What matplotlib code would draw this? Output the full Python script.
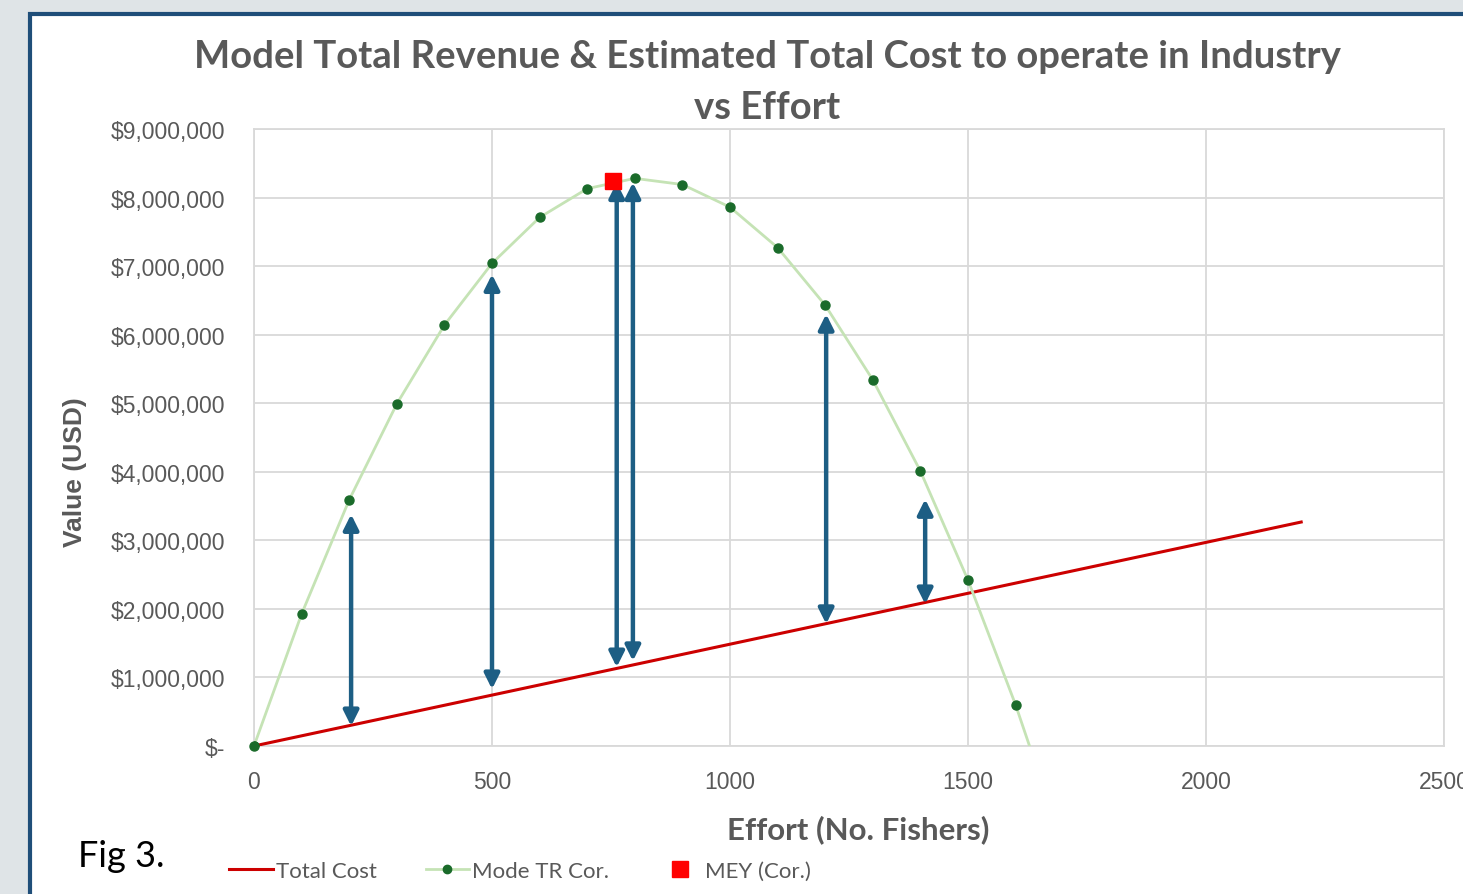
import matplotlib.pyplot as plt
import matplotlib.ticker as mticker
from matplotlib.patches import Rectangle
from matplotlib.lines import Line2D

# effort (no. fishers) and modelled total revenue (corrected)
effort = [0, 100, 200, 300, 400, 500, 600, 700, 800, 900, 1000,
          1100, 1200, 1300, 1400, 1500, 1600, 1700]
revenue = [0, 1925000, 3590000, 4990000, 6140000, 7040000, 7710000, 8130000,
           8280000, 8190000, 7860000, 7270000, 6430000, 5340000, 4010000,
           2420000, 600000, -1450000]

# total cost line
cost_effort = [0, 2200]
cost_value = [0, 3267000]

# MEY point
mey_effort = [754]
mey_value = [8240000]

# double arrows showing the gap revenue - cost
arrow_x = [204, 500, 762, 796, 1202, 1410]
arrow_top = [3380000, 6880000, 8220000, 8220000, 6300000, 3600000]
arrow_bottom = [290000, 830000, 1150000, 1240000, 1780000, 2070000]

grey = '#595959'
fig = plt.figure(figsize=(14.63, 8.95), dpi=100)
fig.patch.set_facecolor('#dfe4e7')
fig.patches.append(Rectangle((30/1463, -0.05), 1.1, 1 - 15/895 + 0.05,
                             transform=fig.transFigure, facecolor='white',
                             edgecolor='#1f4e79', linewidth=3, zorder=-5))

ax = fig.add_axes([254/1463, 1 - 747/895, 1190/1463, 617/895])
ax.set_facecolor('white')

ax.plot(cost_effort, cost_value, color='#cc0000', lw=2.2, zorder=3)
ax.plot(effort, revenue, color='#c5e3b5', lw=2, marker='o', ms=6.5,
        mfc='#1a6b2a', mec='#1a6b2a', zorder=3, clip_on=True)
# origin point drawn unclipped so the whole dot shows, as in the original
ax.plot(effort[:1], revenue[:1], 'o', ms=6.5, color='#1a6b2a', zorder=4, clip_on=False)
ax.plot(mey_effort, mey_value, 's', color='#ff0000', ms=11, zorder=5)

for x, t, b in zip(arrow_x, arrow_top, arrow_bottom):
    ax.annotate('', xy=(x, t), xytext=(x, b),
                arrowprops=dict(arrowstyle='<|-|>,head_length=0.9,head_width=0.45',
                                color='#1d5e84', lw=3.2, shrinkA=0, shrinkB=0),
                zorder=4)

ax.set_xlim(0, 2500)
ax.set_ylim(0, 9000000)
ax.set_xticks(range(0, 2501, 500))
ax.set_yticks(range(0, 9000001, 1000000))
ax.yaxis.set_major_formatter(mticker.FuncFormatter(
    lambda v, p: '$-' if v == 0 else '${:,.0f}'.format(v)))
ax.grid(True, color='#d9d9d9', lw=1.3)
ax.set_axisbelow(True)
for s in ax.spines.values():
    s.set_color('#d9d9d9')
    s.set_linewidth(1.3)
ax.tick_params(length=0, labelsize=16.5, labelcolor=grey)
ax.tick_params(axis='y', pad=21)
ax.tick_params(axis='x', pad=17)
for lab in ax.get_xticklabels() + ax.get_yticklabels():
    lab.set_family('Liberation Sans')

ax.set_ylabel('Value (USD)', fontsize=19, fontweight='bold', color=grey,
              family='Liberation Sans', va='center')
ax.yaxis.set_label_coords(-179/1190, 0.446)
ax.set_xlabel('Effort (No. Fishers)', fontsize=22.5, fontweight='bold', color=grey,
              family='Lato', va='center')
ax.xaxis.set_label_coords(604/1190, -83/617)

fig.text(767/1463, 1 - 57/895, 'Model Total Revenue & Estimated Total Cost to operate in Industry',
         ha='center', va='center', fontsize=27.5, fontweight='bold', color=grey, family='Lato')
fig.text(767/1463, 1 - 108/895, 'vs Effort',
         ha='center', va='center', fontsize=27.5, fontweight='bold', color=grey, family='Lato')

fig.text(78/1463, 1 - 857/895, 'Fig 3.', ha='left', va='center', fontsize=26,
         color='black', family='Lato')

handles = [Line2D([], [], color='#cc0000', lw=2.2),
           Line2D([], [], color='#c5e3b5', lw=2, marker='o', ms=6,
                  mfc='#1a6b2a', mec='#1a6b2a'),
           Line2D([], [], color='#ff0000', marker='s', ls='', ms=11)]
fig.legend(handles, ['Total Cost', 'Mode TR Cor.', 'MEY (Cor.)'],
           loc='center', bbox_to_anchor=(520/1463, 1 - 872/895), ncol=3,
           frameon=False, handlelength=1.95, handletextpad=0.15, columnspacing=2.2,
           prop={'family': 'Lato', 'size': 16}, labelcolor=grey)

fig.savefig('out.png', dpi=100, facecolor=fig.get_facecolor())
